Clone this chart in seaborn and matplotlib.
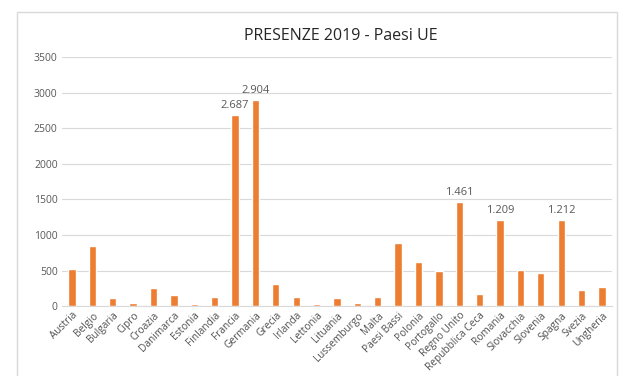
import pandas as pd
import matplotlib.pyplot as plt
import seaborn as sns
from matplotlib.patches import Rectangle

# Data
paesi = ['Austria', 'Belgio', 'Bulgaria', 'Cipro', 'Croazia', 'Danimarca', 'Estonia',
         'Finlandia', 'Francia', 'Germania', 'Grecia', 'Irlanda', 'Lettonia', 'Lituania',
         'Lussemburgo', 'Malta', 'Paesi Bassi', 'Polonia', 'Portogallo', 'Regno Unito',
         'Repubblica Ceca', 'Romania', 'Slovacchia', 'Slovenia', 'Spagna', 'Svezia', 'Ungheria']
presenze = [516, 851, 107, 42, 255, 153, 28, 126, 2687, 2904, 317, 126, 32, 116,
            46, 126, 888, 618, 488, 1461, 167, 1209, 512, 470, 1212, 219, 265]
etichettati = ['Francia', 'Germania', 'Regno Unito', 'Romania', 'Spagna']
yticks = [0, 500, 1000, 1500, 2000, 2500, 3000, 3500]

df = pd.DataFrame({'Paese': paesi, 'Presenze': presenze})

sns.set_style('white')
plt.rcParams['font.family'] = ['Open Sans', 'DejaVu Sans']

fig = plt.figure(figsize=(6.37, 3.76), dpi=100)
ax = fig.add_axes([0.097, 0.186, 0.864, 0.662])

# chart frame (Excel style)
fig.patches.append(Rectangle((17 / 637, -0.05), 600 / 637, 1.05 - 12 / 376,
                             transform=fig.transFigure, fill=False,
                             edgecolor='#d9d9d9', linewidth=1))

sns.barplot(data=df, x='Paese', y='Presenze', color='#ed7d31', width=0.36,
            saturation=1, ax=ax, zorder=3)

ax.set_ylim(0, 3500)
ax.set_yticks(yticks)
ax.set_yticklabels([str(v) for v in yticks], fontsize=7.5, color='#595959')
ax.set_xticklabels(paesi, rotation=45, ha='right', rotation_mode='anchor',
                   fontsize=7.3, color='#505050')
ax.tick_params(axis='both', length=0, pad=3)
ax.grid(axis='y', color='#d9d9d9', linewidth=0.8, zorder=0)
ax.set_axisbelow(True)
for s in ['top', 'right', 'left']:
    ax.spines[s].set_visible(False)
ax.spines['bottom'].set_color('#d9d9d9')
ax.set_xlabel('')
ax.set_ylabel('')
ax.set_xlim(-0.5, len(paesi) - 0.5)

for i, (p, v) in enumerate(zip(paesi, presenze)):
    if p in etichettati:
        ax.text(i, v + 55, f'{v:,}'.replace(',', '.'), ha='center', va='bottom',
                fontsize=8, color='#595959')

fig.text(0.535, 0.905, 'PRESENZE 2019 - Paesi UE', ha='center', va='center',
         fontsize=11.5, color='#262626')

fig.savefig('out.png', dpi=100)
